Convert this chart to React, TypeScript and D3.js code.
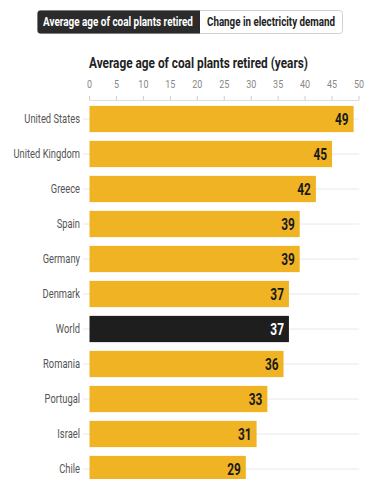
import React, { useLayoutEffect, useRef, useState } from "react";
import * as d3 from "d3";

const categories = ["United States","United Kingdom","Greece","Spain","Germany","Denmark","World","Romania","Portugal","Israel","Chile"];
const values = [49,45,42,39,39,37,37,36,33,31,29];
const xTicks = [0,5,10,15,20,25,30,35,40,45,50];
const highlight = "World";
const title = "Average age of coal plants retired (years)";
const tabs = ["Average age of coal plants retired","Change in electricity demand"];

const W = 365, H = 479;
const FONT = "Roboto, 'Noto Sans', sans-serif";
const SX = 0.78;

function CText(props: { x: number; y: number; anchor?: string; fill: string; size: number; bold?: boolean; children: any; dy?: string; s?: number }) {
  const s = props.s ?? SX;
  return (
    <text transform={`translate(${props.x},${props.y}) scale(${s},1)`} textAnchor={props.anchor ?? "start"} dy={props.dy}
      fill={props.fill} fontSize={props.size} fontWeight={props.bold ? "bold" : "normal"}>{props.children}</text>
  );
}

function FitText(props: { x: number; y: number; width: number; fill: string; size: number; children: any }) {
  const ref = useRef<SVGTextElement>(null);
  const [s, setS] = useState(0.75);
  useLayoutEffect(() => {
    if (ref.current) {
      const w = ref.current.getComputedTextLength();
      if (w > 0) setS(props.width / w);
    }
  }, [props.width]);
  return (
    <text ref={ref} transform={`translate(${props.x},${props.y}) scale(${s},1)`} fill={props.fill} fontSize={props.size} fontWeight="bold">{props.children}</text>
  );
}

export default function App() {
  const x = d3.scaleLinear().domain([0, 50]).range([89.5, 359]);
  const y = d3.scaleBand<string>().domain(categories).range([101.5, 101.5 + 35 * categories.length]).paddingInner(0.25).paddingOuter(0.125);
  return (
    <svg width={W} height={H} style={{ position: "absolute", left: 0, top: 0, background: "#fff" }} fontFamily={FONT}>
      {/* tabs */}
      <rect x={37.5} y={10.5} width={305} height={23} rx={3} fill="#fff" stroke="#d0d0d0" />
      <path d={`M40.5,10.5 H200 V33.5 H40.5 A3,3 0 0 1 37.5,30.5 V13.5 A3,3 0 0 1 40.5,10.5 Z`} fill="#2b2b2b" />
      <FitText x={43} y={26} width={150} fill="#fff" size={12}>{tabs[0]}</FitText>
      <FitText x={207} y={26} width={128} fill="#222" size={12}>{tabs[1]}</FitText>
      {/* title */}
      <FitText x={89} y={68} width={219} fill="#222" size={14.5}>{title}</FitText>
      {/* x axis */}
      {xTicks.map(t => (
        <g key={t}>
          <CText x={x(t)} y={87.5} anchor="middle" fill="#888" size={11.5}>{t}</CText>
          <line x1={x(t)} x2={x(t)} y1={96} y2={100} stroke="#ccc" />
        </g>
      ))}
      <line x1={x(0)} x2={x(50)} y1={100.5} y2={100.5} stroke="#ddd" />
      {/* rows */}
      {categories.map((c, i) => {
        const cy = (y(c) as number) + y.bandwidth() / 2;
        const isH = c === highlight;
        return (
          <g key={c}>
            <line x1={83} x2={x(50)} y1={cy} y2={cy} stroke="#e8e8e8" />
            <CText x={80} y={cy} dy="0.36em" anchor="end" fill="#555" size={12}>{c}</CText>
            <rect x={x(0)} y={y(c)} width={x(values[i]) - x(0)} height={y.bandwidth()} fill={isH ? "#1e1e1e" : "#f0b323"} />
            <CText x={x(values[i]) - 5} y={cy} dy="0.36em" anchor="end" fill={isH ? "#fff" : "#1a1a1a"} size={16} bold s={0.74}>{values[i]}</CText>
          </g>
        );
      })}
    </svg>
  );
}
